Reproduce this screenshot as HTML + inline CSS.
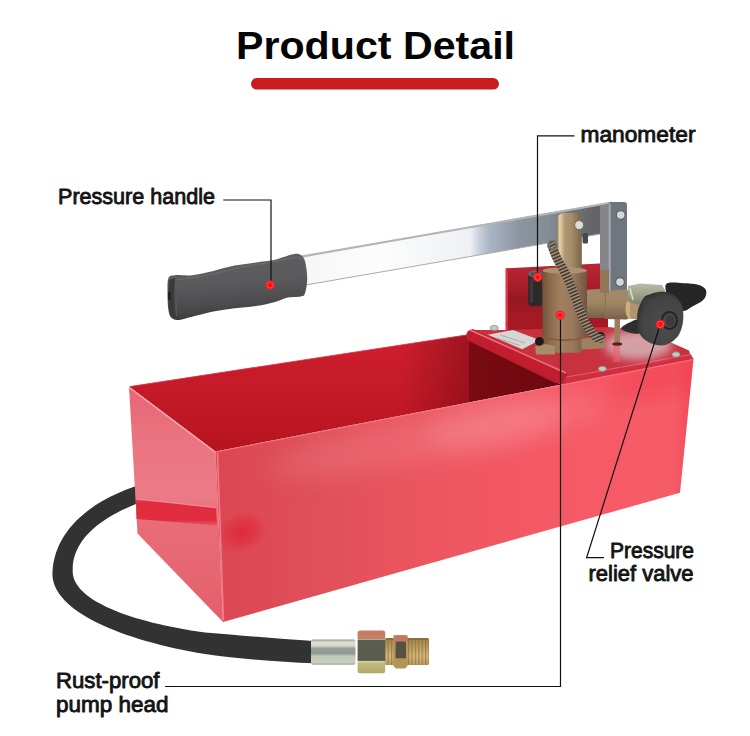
<!DOCTYPE html>
<html><head><meta charset="utf-8">
<style>
html,body{margin:0;padding:0;background:#fff;}
body{width:750px;height:736px;overflow:hidden;position:relative;}
svg{position:absolute;left:0;top:0;}
text{font-family:"Liberation Sans",sans-serif;font-weight:bold;fill:#141414;}
text.m{font-weight:normal;stroke:#141414;stroke-width:0.9px;stroke-linejoin:round;}
</style></head><body>
<svg width="750" height="736" viewBox="0 0 750 736">
<defs>
<linearGradient id="gFront" gradientUnits="userSpaceOnUse" x1="215" y1="0" x2="693" y2="0">
<stop offset="0" stop-color="#dc4652"/><stop offset="0.22" stop-color="#e0505a"/><stop offset="0.4" stop-color="#ea545f"/><stop offset="0.6" stop-color="#f25864"/><stop offset="0.8" stop-color="#f65a67"/><stop offset="0.96" stop-color="#f65b68"/><stop offset="1" stop-color="#f24858"/>
</linearGradient>
<linearGradient id="gLeft" gradientUnits="userSpaceOnUse" x1="0" y1="386" x2="0" y2="620">
<stop offset="0" stop-color="#e76572"/><stop offset="0.27" stop-color="#eb7682"/><stop offset="0.47" stop-color="#ec7a86"/><stop offset="0.6" stop-color="#e86c78"/><stop offset="1" stop-color="#e3606c"/>
</linearGradient>
<linearGradient id="gIn" gradientUnits="userSpaceOnUse" x1="0" y1="335" x2="0" y2="450">
<stop offset="0" stop-color="#ce1e2e"/><stop offset="0.5" stop-color="#c41a28"/><stop offset="1" stop-color="#b6141e"/>
</linearGradient>
<linearGradient id="gBar" gradientUnits="userSpaceOnUse" x1="300" y1="0" x2="612" y2="0">
<stop offset="0" stop-color="#f6f6f6"/><stop offset="0.256" stop-color="#fdfdfd"/><stop offset="0.545" stop-color="#eef0f4"/><stop offset="0.58" stop-color="#c2cad6"/><stop offset="0.61" stop-color="#a8b4c4"/><stop offset="0.705" stop-color="#8c94a0"/><stop offset="0.8" stop-color="#848c96"/><stop offset="0.93" stop-color="#646668"/><stop offset="1" stop-color="#5e6062"/>
</linearGradient>
<linearGradient id="gBrass" x1="0" y1="0" x2="1" y2="0">
<stop offset="0" stop-color="#6e5438"/><stop offset="0.18" stop-color="#8c6a50"/><stop offset="0.42" stop-color="#a2805f"/><stop offset="0.7" stop-color="#98785c"/><stop offset="1" stop-color="#6e5440"/>
</linearGradient>
<linearGradient id="gBrassV" x1="0" y1="0" x2="0" y2="1">
<stop offset="0" stop-color="#a48868"/><stop offset="0.45" stop-color="#a08764"/><stop offset="1" stop-color="#76604a"/>
</linearGradient>
<linearGradient id="gLink" x1="0" y1="0" x2="1" y2="0">
<stop offset="0" stop-color="#6c7074"/><stop offset="0.35" stop-color="#9aa0a5"/><stop offset="1" stop-color="#b6bbbf"/>
</linearGradient>
<radialGradient id="gDot" cx="0.5" cy="0.5" r="0.5">
<stop offset="0" stop-color="#ff0a0a"/><stop offset="0.42" stop-color="#ff1414"/><stop offset="0.62" stop-color="#ff5050"/><stop offset="0.8" stop-color="#e01020"/><stop offset="1" stop-color="#ff3040" stop-opacity="0.25"/>
</radialGradient>
</defs>

<!-- title bar -->
<rect x="251" y="78" width="248" height="11.6" rx="5.8" fill="#c81c1e"/>
<text x="236" y="58.7" font-size="38.5" textLength="279" lengthAdjust="spacingAndGlyphs" style="fill:#050505">Product Detail</text>

<!-- hose -->
<defs><linearGradient id="gHose" x1="0" y1="0" x2="1" y2="1"><stop offset="0" stop-color="#2a2a2a"/><stop offset="1" stop-color="#2e2e2e"/></linearGradient></defs>
<path d="M150,482 C100,495 55,525 52.5,572 C50,610 120,640 205,654 C240,659 280,662 314,663.3 L314,641 C280,639.5 240,635 205,632.5 C130,622 72,600 72.7,570.7 C72,535 110,512 150,499 Z" fill="#323232"/>

<!-- hose fittings -->
<defs>
<linearGradient id="gFer" x1="0" y1="0" x2="0" y2="1">
<stop offset="0" stop-color="#a89088"/><stop offset="0.1" stop-color="#dce4d4"/><stop offset="0.25" stop-color="#d0d8c8"/><stop offset="0.35" stop-color="#98a098"/><stop offset="0.55" stop-color="#909890"/><stop offset="0.65" stop-color="#c0c8b8"/><stop offset="0.9" stop-color="#c8d0c0"/><stop offset="1" stop-color="#a0a498"/>
</linearGradient>
<linearGradient id="gNut" x1="0" y1="0" x2="0" y2="1">
<stop offset="0" stop-color="#c87a62"/><stop offset="0.19" stop-color="#c48066"/><stop offset="0.2" stop-color="#d8ccb0"/><stop offset="0.23" stop-color="#5c5e52"/><stop offset="0.7" stop-color="#585a4e"/><stop offset="0.72" stop-color="#d8d4b0"/><stop offset="0.76" stop-color="#c4bc7c"/><stop offset="1" stop-color="#b0a868"/>
</linearGradient>
<linearGradient id="gThr" x1="0" y1="0" x2="0" y2="1">
<stop offset="0" stop-color="#a88850"/><stop offset="0.4" stop-color="#d8b878"/><stop offset="1" stop-color="#8a7040"/>
</linearGradient>
<pattern id="pThr" width="3.4" height="40" patternUnits="userSpaceOnUse"><rect width="3.4" height="40" fill="url(#gThr)"/><rect width="1.2" height="40" fill="#7a6030" opacity="0.55"/></pattern>
</defs>
<rect x="311" y="639.6" width="44.5" height="25.2" rx="2" fill="url(#gFer)"/>
<rect x="385" y="638" width="44" height="27" rx="1.5" fill="url(#pThr)"/>
<path d="M393.5,638 L396,635.3 L405,635.3 L407.6,638 L407.6,666 L405,668.6 L396,668.6 L393.5,666 Z" fill="#b09458"/>
<rect x="393.5" y="635.3" width="14.1" height="6" fill="#c07860"/>
<rect x="395.6" y="641.5" width="10.4" height="16.7" rx="1" fill="#585040"/>
<rect x="357.6" y="630.6" width="27.6" height="42.6" rx="2.5" fill="url(#gNut)"/>

<!-- back plate -->
<defs><linearGradient id="gBP" gradientUnits="userSpaceOnUse" x1="0" y1="264" x2="0" y2="330"><stop offset="0" stop-color="#b82838"/><stop offset="0.3" stop-color="#aa1e2c"/><stop offset="0.55" stop-color="#961822"/><stop offset="0.8" stop-color="#a41a24"/><stop offset="1" stop-color="#a41a24"/></linearGradient></defs>
<polygon points="506,268.3 599.5,263.5 608,264 608,330 506,330" fill="url(#gBP)"/>
<polygon points="505.5,268.3 508,268.2 508,330 505.5,330" fill="#de3442"/>
<line x1="506" y1="324.5" x2="608" y2="323" stroke="#b01626" stroke-width="1.2" opacity="0.7"/>

<!-- box interior -->
<polygon points="129,386.5 469,334.5 469,402.5 215.5,451.5" fill="url(#gIn)"/>
<defs><linearGradient id="gInH" gradientUnits="userSpaceOnUse" x1="129" y1="0" x2="469" y2="0"><stop offset="0" stop-color="#500008" stop-opacity="0"/><stop offset="0.8" stop-color="#500008" stop-opacity="0"/><stop offset="1" stop-color="#500008" stop-opacity="0.36"/></linearGradient></defs>
<polygon points="129,386.5 469,334.5 469,402.5 215.5,451.5" fill="url(#gInH)"/>
<line x1="130" y1="386.6" x2="469" y2="334.6" stroke="#e23a4a" stroke-width="1" opacity="0.8"/>
<defs><linearGradient id="gInR" gradientUnits="userSpaceOnUse" x1="469" y1="0" x2="560" y2="0"><stop offset="0" stop-color="#7a0a12"/><stop offset="1" stop-color="#6c0810"/></linearGradient></defs>
<polygon points="469,334.5 553,381 562,384.5 469,402.5" fill="url(#gInR)"/>
<!-- left face -->
<polygon points="129,386.5 215.5,451.5 223,622 137.5,533.5" fill="url(#gLeft)"/>
<polygon points="129,386.5 215.5,451.5 215.5,453.3 129,388.3" fill="#f6a8b0" opacity="0.9"/>
<defs><linearGradient id="gBand" x1="0" y1="0" x2="0" y2="1">
<stop offset="0" stop-color="#e02a3c" stop-opacity="0.6"/><stop offset="0.15" stop-color="#df283a" stop-opacity="0.95"/><stop offset="0.8" stop-color="#e02a3c" stop-opacity="0.95"/><stop offset="1" stop-color="#e03040" stop-opacity="0.3"/></linearGradient></defs>
<polygon points="136,499 216,507.6 217,525.5 136.5,519" fill="url(#gBand)"/>
<line x1="136" y1="499" x2="216" y2="507.6" stroke="#f49aa2" stroke-width="1.2" opacity="0.8"/>
<!-- front face -->
<polygon points="215.5,451.5 693.5,359 680,492.7 223,622" fill="url(#gFront)"/>
<defs><clipPath id="cFront"><polygon points="215.5,451.5 693.5,359 680,492.7 223,622"/></clipPath>
<filter id="fBlur12" x="-50%" y="-50%" width="200%" height="200%"><feGaussianBlur stdDeviation="12"/></filter></defs>
<g clip-path="url(#cFront)">
<ellipse cx="440" cy="436" rx="175" ry="24" transform="rotate(-11 440 436)" fill="#ffd0d6" opacity="0.14" filter="url(#fBlur12)"/>
<ellipse cx="495" cy="424" rx="70" ry="20" transform="rotate(-11 495 424)" fill="#ffd0d6" opacity="0.16" filter="url(#fBlur12)"/>
<ellipse cx="655" cy="378" rx="50" ry="14" transform="rotate(-12 655 378)" fill="#f03848" opacity="0.55" filter="url(#fBlur12)"/>
</g>
<line x1="215.5" y1="452" x2="693.5" y2="359.5" stroke="#f08890" stroke-width="1" opacity="0.7"/>
<defs><radialGradient id="gBlob" cx="0.5" cy="0.5" r="0.5"><stop offset="0" stop-color="#dc2236" stop-opacity="0.85"/><stop offset="0.6" stop-color="#de2a3c" stop-opacity="0.5"/><stop offset="1" stop-color="#e03040" stop-opacity="0"/></radialGradient></defs>
<ellipse cx="242" cy="532" rx="26" ry="20" fill="url(#gBlob)" transform="rotate(-20 242 532)"/>
<line x1="217.5" y1="453" x2="223.5" y2="620.5" stroke="#f08a94" stroke-width="1.6" opacity="0.8"/>

<!-- platform -->
<polygon points="470,330 505,330 608,327 645,331 689,350.6 691,356.5 562,380" fill="#c8323e"/>
<polygon points="562,377.7 690.7,354.3 693.5,359 562,384.5" fill="#d22e3f"/>
<line x1="562" y1="377.9" x2="690.7" y2="354.5" stroke="#e4606e" stroke-width="1"/>
<defs><filter id="fBlur5" x="-50%" y="-50%" width="200%" height="200%"><feGaussianBlur stdDeviation="5"/></filter>
<clipPath id="cPlat"><polygon points="470,330 505,330 608,327 645,331 689,350.6 691,356.5 562,380"/></clipPath></defs>
<g clip-path="url(#cPlat)"><ellipse cx="638" cy="345" rx="34" ry="15" fill="#d4a0a8" filter="url(#fBlur5)"/></g>
<path d="M468,331 C465,335 466,340 471,342 L553,382 L562,384 L568,374 L473,329 Z" fill="#c01e2e"/>
<path d="M471,341.5 L555,382" stroke="#b01828" stroke-width="1" opacity="0.6"/>
<path d="M470,330 L566,373" stroke="#ee7080" stroke-width="1.5" fill="none"/>
<!-- nameplate -->
<polygon points="487.7,334.7 513,330 539.7,340 522.3,349.3" fill="#d6d6d6"/>
<g stroke="#999" stroke-width="0.7"><line x1="500" y1="335" x2="525" y2="343"/><line x1="497" y1="338" x2="520" y2="345.5"/></g>
<!-- screws -->
<ellipse cx="494.3" cy="328" rx="4" ry="2.6" fill="#c8c8c8" stroke="#888" stroke-width="0.8"/>
<ellipse cx="602.4" cy="368.8" rx="4" ry="2.6" fill="#c8c8c8" stroke="#888" stroke-width="0.8"/>
<ellipse cx="676" cy="354.4" rx="4" ry="2.6" fill="#c8c8c8" stroke="#888" stroke-width="0.8"/>
<!-- rod + reflection -->
<rect x="614.5" y="318" width="5.5" height="27" fill="#9a8060"/>
<ellipse cx="617.2" cy="344" rx="5" ry="1.8" fill="#5a2020"/>
<rect x="613" y="346" width="7" height="16" fill="#e8606c" opacity="0.6"/>

<!-- handle bar -->
<polygon points="300,256 612,202 606,233 300,286" fill="url(#gBar)"/>
<line x1="300" y1="256.8" x2="612" y2="202.5" stroke="#b4b4b4" stroke-width="2.2"/>
<line x1="300" y1="286" x2="606" y2="233" stroke="#aaaaaa" stroke-width="1"/>


<!-- grip -->
<defs><linearGradient id="gGrip" x1="0" y1="0" x2="0.15" y2="1">
<stop offset="0" stop-color="#4a4a4a"/><stop offset="0.15" stop-color="#5e5e60"/><stop offset="0.5" stop-color="#5a5a5c"/><stop offset="0.8" stop-color="#4c4c4e"/><stop offset="1" stop-color="#3c3c3c"/></linearGradient></defs>
<path d="M168.5,278.0 C169.8,275.0 171.1,275.7 175.0,275.2 C178.9,274.7 185.6,275.9 192.0,275.2 C198.4,274.5 206.2,272.5 213.3,270.9 C220.4,269.3 227.6,267.0 234.7,265.6 C241.8,264.2 249.6,263.3 256.0,262.4 C262.4,261.5 268.4,261.2 273.0,260.3 C277.6,259.4 280.1,258.1 283.7,257.0 C287.3,255.9 291.5,254.2 294.4,253.9 C297.2,253.6 299.0,253.8 300.8,255.0 C302.6,256.2 303.9,257.4 305.0,261.3 C306.1,265.2 307.2,273.1 307.2,278.4 C307.2,283.7 306.1,290.3 305.0,293.3 C303.9,296.3 303.6,295.8 300.8,296.5 C298.0,297.2 292.3,296.7 288.0,297.6 C283.7,298.5 280.5,300.5 275.2,301.9 C269.9,303.3 262.8,305.0 256.0,306.1 C249.2,307.2 241.8,307.4 234.7,308.3 C227.6,309.2 220.4,310.1 213.3,311.5 C206.2,312.9 197.7,315.4 192.0,316.8 C186.3,318.2 182.6,319.8 179.2,320.0 C175.8,320.2 173.5,319.5 171.7,317.9 C169.9,316.3 169.2,314.5 168.5,310.4 C167.8,306.3 167.5,298.7 167.5,293.3 C167.5,287.9 167.2,281.0 168.5,278.0 Z" fill="url(#gGrip)"/>
<path d="M169,280 C168,292 168,305 170.5,316 L175,317.5 C174,306 174,292 175,278 Z" fill="#3a3a3a"/>
<path d="M177,279.5 C195,278 215,274 235,268.5 C255,264 275,262.5 290,258 C296,256.5 300,257 302,260" fill="none" stroke="#6a6a6c" stroke-width="1.6" opacity="0.8"/>
<line x1="175.5" y1="279" x2="176.5" y2="316" stroke="#5a5a5a" stroke-width="1"/>
<rect x="168.3" y="292" width="2.2" height="8" fill="#1a1a1a"/>

<!-- link -->
<rect x="600" y="205" width="9" height="66" fill="#86868a"/>
<rect x="608.6" y="202" width="18.4" height="91.6" rx="3" fill="#6e7680"/>
<rect x="608.6" y="204" width="2" height="88" fill="#a8acb2"/>
<circle cx="620.7" cy="215" r="4.4" fill="#d4d6d8" stroke="#5e6266" stroke-width="1.2"/>
<circle cx="620" cy="282.1" r="4.4" fill="#d4d6d8" stroke="#5e6266" stroke-width="1.2"/>

<!-- manometer -->
<rect x="528.3" y="272" width="14" height="34" rx="3" fill="#2a2a2a"/>
<rect x="530" y="278" width="3" height="25" fill="#3a3a3a"/>
<ellipse cx="535.2" cy="274" rx="7" ry="3.6" fill="#6a6a6a"/>
<ellipse cx="535.5" cy="274.5" rx="5" ry="2.4" fill="#505050"/>

<!-- pump: piston -->
<defs><linearGradient id="gPiston" x1="0" y1="0" x2="1" y2="0"><stop offset="0" stop-color="#8a7450"/><stop offset="0.12" stop-color="#e8d4aa"/><stop offset="0.32" stop-color="#b09874"/><stop offset="0.6" stop-color="#a48c68"/><stop offset="1" stop-color="#7a6448"/></linearGradient></defs>
<path d="M556.7,272 L556.7,221 C556.7,215 560,212.9 566,212.9 L573,212.9 C579,212.9 581.8,215 581.8,221 L581.8,272 Z" fill="url(#gPiston)"/>
<rect x="582.5" y="233" width="5.5" height="10.5" rx="1.5" fill="#45484c"/>
<circle cx="579.1" cy="225.1" r="4.5" fill="#dcdcdc" stroke="#6f6f6f" stroke-width="1"/>
<!-- side pipe -->
<path d="M585,290 L605,288.5 L605,318 L585,318 Z" fill="url(#gBrassV)"/>
<path d="M605,291 L625,289.5 C629,289.5 631,293 631,300 L631,312 C631,317 629,319.5 625,319.5 L605,319 Z" fill="url(#gBrassV)"/>
<line x1="605.4" y1="290" x2="605.4" y2="318" stroke="#8a7250" stroke-width="1"/>
<ellipse cx="630" cy="309" rx="4.5" ry="10" fill="#cdb07e"/>
<rect x="630" y="302" width="10" height="17" rx="2" fill="#b09470"/>
<!-- link pivot -->
<rect x="600" y="270" width="9" height="23" fill="#927658"/>
<!-- cylinder -->
<path d="M542.4,270 L587,270 L587,336 C584,339 583,345 582,352.8 L546,352.8 C545,345 543.5,340 542.4,338 Z" fill="url(#gBrass)"/>
<ellipse cx="564.7" cy="270.5" rx="22.3" ry="3.2" fill="#b09070"/>
<path d="M542.6,337 Q564.7,343.5 586.8,337" fill="none" stroke="#8a5a3a" stroke-width="1.8"/>
<!-- feet -->
<path d="M535.2,346 L545,344 L548,344.4 L555,346 L555,354.6 L536,354.6 Z" fill="#a88c68"/>
<path d="M581.4,339 L598,336.5 L604.8,338 L604.8,348 L590,349.2 L581.4,349.2 Z" fill="#9e8260"/>
<circle cx="539.4" cy="341.4" r="4.4" fill="#1c1c1c"/>
<circle cx="600.6" cy="336" r="4" fill="#222"/>
<!-- spring -->
<defs><pattern id="pSpr" width="3.2" height="3.2" patternUnits="userSpaceOnUse" patternTransform="rotate(-24)"><rect width="3.2" height="3.2" fill="#9c8c78"/><rect width="3.2" height="1.5" fill="#42352a"/></pattern></defs>
<path d="M552.0,246.0 C552.8,247.9 554.8,253.7 556.5,257.4 C558.2,261.0 560.4,264.1 562.4,267.9 C564.4,271.6 566.4,275.4 568.4,279.9 C570.4,284.4 572.5,289.8 574.4,294.8 C576.3,299.8 577.6,304.8 579.6,309.8 C581.6,314.8 583.8,320.2 586.4,324.7 C589.0,329.2 593.0,334.4 595.3,336.7 C597.6,339.0 599.2,338.2 600.0,338.5" fill="none" stroke="url(#pSpr)" stroke-width="9" stroke-linecap="round"/>
<circle cx="552.5" cy="245" r="4.2" fill="none" stroke="#6e6e6e" stroke-width="2.2"/>

<!-- knob back lobe and fitting -->
<path d="M665.7,284.7 C667.6,281.1 677.9,283.2 683.3,283.2 C688.7,283.2 694.3,283.7 698.0,284.7 C701.7,285.7 704.0,287.3 705.3,289.0 C706.6,290.7 706.5,293.0 706.0,295.0 C705.5,297.0 704.7,298.9 702.4,300.8 C700.1,302.8 695.2,305.0 692.0,306.7 C688.8,308.4 686.6,311.3 683.3,311.0 C680.0,310.7 674.9,309.4 672.0,305.0 C669.1,300.6 663.8,288.3 665.7,284.7 Z" fill="#262626"/>
<defs><linearGradient id="gFit" x1="0" y1="0" x2="0" y2="1"><stop offset="0" stop-color="#b8bca8"/><stop offset="0.5" stop-color="#9ea38c"/><stop offset="1" stop-color="#7c806c"/></linearGradient></defs>
<path d="M628,286 L640,283.5 L662,285 L666,292 L664,303.5 L640,305 L628,302 Z" fill="url(#gFit)"/>
<path d="M630,288 L633,300" stroke="#d8dcc8" stroke-width="1.5"/>
<path d="M621.0,328.5 C620.8,326.5 629.0,322.7 632.0,321.3 C635.0,319.9 637.3,318.2 639.3,319.9 C641.2,321.6 644.7,329.3 643.7,331.6 C642.7,333.9 637.3,334.0 633.5,333.5 C629.7,333.0 621.2,330.5 621.0,328.5 Z" fill="#2e2e2e"/>
<defs><radialGradient id="gKnob" cx="0.6" cy="0.6" r="0.65"><stop offset="0" stop-color="#4c4c4c"/><stop offset="0.75" stop-color="#444"/><stop offset="1" stop-color="#2e2e2e"/></radialGradient></defs>
<path d="M643.7,297.9 C645.3,295.7 645.5,296.0 648.0,295.0 C650.5,294.0 654.9,292.4 658.4,292.0 C661.9,291.6 665.8,291.9 668.7,292.7 C671.6,293.5 673.8,294.9 676.0,297.0 C678.2,299.1 680.7,302.4 681.9,305.2 C683.1,308.0 683.2,310.8 683.3,314.0 C683.4,317.2 683.3,320.9 682.6,324.3 C681.9,327.7 680.8,331.6 679.0,334.5 C677.2,337.4 674.6,340.1 671.6,341.9 C668.6,343.7 664.7,345.3 661.3,345.5 C657.9,345.7 654.2,344.6 651.0,343.3 C647.8,342.0 644.5,339.9 642.3,337.5 C640.1,335.1 638.8,331.9 637.9,328.7 C637.0,325.5 637.0,321.8 637.1,318.4 C637.2,315.0 637.5,311.5 638.6,308.1 C639.7,304.7 642.1,300.1 643.7,297.9 Z" fill="url(#gKnob)"/>
<path d="M641,301 C645,296 652,296 654,302 C655,309 650,313 645,312 Z" fill="#444" opacity="0.5"/>
<ellipse cx="669.5" cy="320.5" rx="7.5" ry="8.5" fill="none" stroke="#242424" stroke-width="2"/>
<ellipse cx="670" cy="321" rx="4.5" ry="5.5" fill="#3c3c3c"/>

<!-- callout lines -->
<g stroke="#111" stroke-width="1.2" fill="none">
<polyline points="223.3,200 271,200 271,285"/>
<polyline points="574.5,135.8 537.5,135.8 537.5,277"/>
<polyline points="560.5,315 560.5,686.5 165,686.5"/>
<polyline points="604,557.7 586.6,557.7 660.3,324.3"/>
</g>
<!-- dots -->
<circle cx="270" cy="285" r="5" fill="url(#gDot)"/>
<circle cx="537.7" cy="277.2" r="5" fill="url(#gDot)"/>
<circle cx="560.2" cy="315.2" r="5" fill="url(#gDot)"/>
<circle cx="660.3" cy="324.3" r="5" fill="url(#gDot)"/>

<!-- labels -->
<text x="58" y="203.9" class="m" font-size="22.8" textLength="157" lengthAdjust="spacingAndGlyphs">Pressure handle</text>
<text x="580.5" y="141.6" class="m" font-size="22.8" textLength="115" lengthAdjust="spacingAndGlyphs">manometer</text>
<text x="610" y="558" class="m" font-size="22.8" textLength="84" lengthAdjust="spacingAndGlyphs">Pressure</text>
<text x="588.5" y="581.3" class="m" font-size="22.8" textLength="105" lengthAdjust="spacingAndGlyphs">relief valve</text>
<text x="56" y="688" class="m" font-size="22.8" textLength="103.5" lengthAdjust="spacingAndGlyphs">Rust-proof</text>
<text x="56" y="712" class="m" font-size="22.8" textLength="112.5" lengthAdjust="spacingAndGlyphs">pump head</text>
</svg>
</body></html>
